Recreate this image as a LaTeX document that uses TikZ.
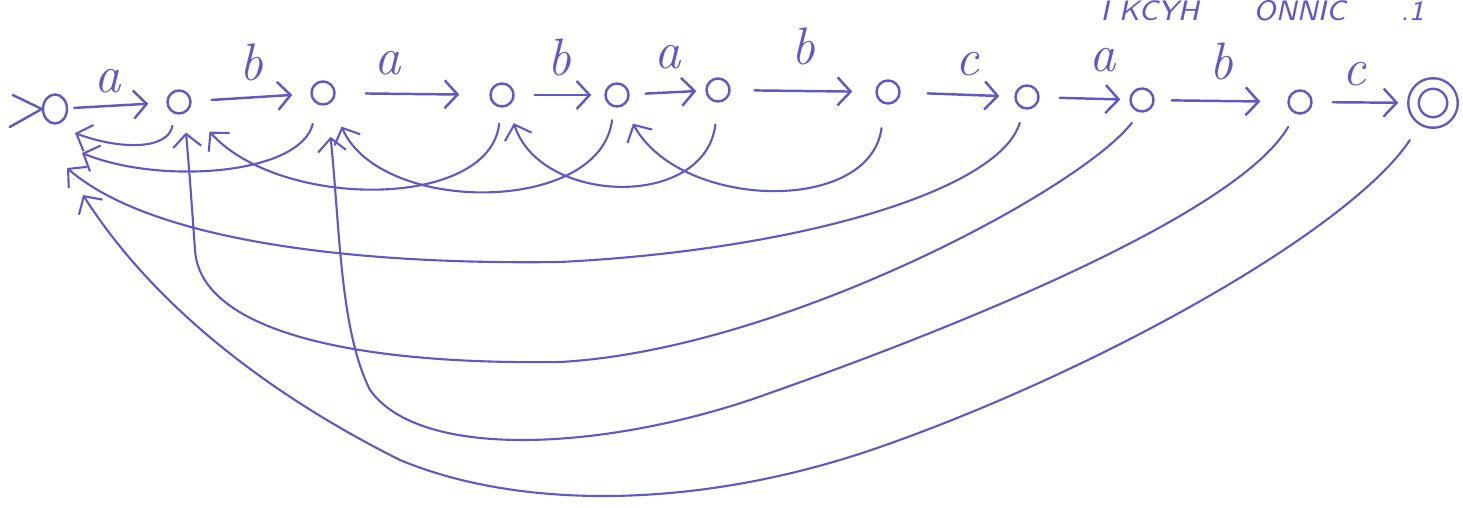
\documentclass[tikz,border=0pt]{standalone}
\usetikzlibrary{arrows.meta, shapes.geometric}
\definecolor{pen}{RGB}{98,88,196}

\begin{document}
\begin{tikzpicture}[x=0.1mm, y=-0.1mm, line cap=round, line join=round,
    state/.style={draw=pen, line width=0.7pt, circle, inner sep=0pt, minimum size=2.3mm},
    fwd/.style={draw=pen, line width=0.7pt, -{Straight Barb[length=1.3mm, width=2.8mm]}, shorten <=2mm, shorten >=1.8mm},
    back/.style={draw=pen, line width=0.6pt, -{Straight Barb[length=1.3mm, width=2.8mm]}},
    lbl/.style={font=\fontsize{15}{17}\selectfont\itshape, text=pen, inner sep=0.3mm},
    note/.style={font=\sffamily\slshape\fontsize{8}{10}\selectfont, text=pen, anchor=base west, inner sep=0pt}]
    \useasboundingbox (0,0) rectangle (1463,508);

    % States
    \node[state, ellipse, minimum width=2.4mm, minimum height=2.9mm] (q0) at (55,109) {};
    \node[state] (q1) at (179,102) {};
    \node[state] (q2) at (323,93) {};
    \node[state] (q3) at (502,95) {};
    \node[state] (q4) at (617,95) {};
    \node[state] (q5) at (718,90) {};
    \node[state] (q6) at (888,92) {};
    \node[state] (q7) at (1027,97) {};
    \node[state] (q8) at (1142,100) {};
    \node[state] (q9) at (1300,102) {};
    \node[state, double, double distance=0.8mm, minimum size=3.9mm] (q10) at (1433,103) {};

    % Start marker
    \draw[pen, line width=0.7pt] ([shift={(-2.9mm,1.4mm)}]q0.west) -- (q0.west) -- ([shift={(-3.2mm,-1.8mm)}]q0.west);

    % Forward transitions
    \draw[fwd, shorten <=0.6mm] (q0) -- node[lbl, above=0.8mm, xshift=-1mm] {a} (q1);
    \draw[fwd] (q1) -- node[lbl, above=1.2mm] {b} (q2);
    \draw[fwd, shorten <=3mm, shorten >=3mm] (q2) -- node[lbl, above=1.5mm, xshift=-2.5mm] {a} (q3);
    \draw[fwd, shorten >=1.3mm] (q3) -- node[lbl, above=1.5mm] {b} (q4);
    \draw[fwd, shorten <=1.6mm, shorten >=0.9mm] (q4) -- node[lbl, above=1.9mm] {a} (q5);
    \draw[fwd, shorten <=2.4mm, shorten >=2.3mm] (q5) -- node[lbl, above=2.2mm] {b} (q6);
    \draw[fwd, shorten <=2.7mm, shorten >=1.5mm] (q6) -- node[lbl, above=1.4mm, xshift=1mm] {c} (q7);
    \draw[fwd, shorten >=0.9mm] (q7) -- node[lbl, above=2.2mm, xshift=1.8mm] {a} (q8);
    \draw[fwd, shorten <=1.7mm, shorten >=2.7mm] (q8) -- node[lbl, above=1.7mm] {b} (q9);
    \draw[fwd, shorten >=1.4mm] (q9) -- node[lbl, above=1.2mm, xshift=-0.8mm] {c} (q10);

    % Arrow ends below the start state
    \coordinate (t0a) at (75,133);
    \coordinate (t0b) at (82,153);
    \coordinate (t0c) at (67,168);
    \coordinate (t0d) at (83,195);

    % Short back edges
    \draw[back, shorten <=1.2mm] (q1.-110) .. controls (168,150) and (120,150) .. (t0a);
    \draw[back, shorten <=2mm] (q2.-115) .. controls (300,175) and (160,185) .. (t0b);
    \draw[back, shorten <=1.6mm, shorten >=3mm] (q3.-95) .. controls (490,210) and (280,210) .. (q1.-35);
    \draw[back, shorten <=1.3mm, shorten >=2.6mm] (q4.-105) .. controls (600,215) and (380,215) .. (q2.-50);
    \draw[back, shorten <=2.2mm, shorten >=1.8mm] (q5.-90) .. controls (705,210) and (540,205) .. (q3.-60);
    \draw[back, shorten <=2.4mm, shorten >=2mm] (q6.-105) .. controls (870,215) and (680,210) .. (q4.-60);

    % Long back edges
    \draw[back, shorten <=1.4mm] (q7.-105) .. controls (1000,190) and (800,250) .. (560,262)
        .. controls (350,265) and (150,240) .. (t0c);
    \draw[back, shorten <=1.3mm, shorten >=1.9mm] (q8.-100) .. controls (1080,190) and (780,350) .. (560,362)
        .. controls (350,365) and (200,330) .. (195,250) .. controls (190,180) .. (q1.-65);
    \draw[back, shorten <=1.5mm, shorten >=3.2mm] (q9.-110) .. controls (1240,210) and (980,320) .. (750,400)
        .. controls (600,450) and (420,460) .. (370,390) .. controls (340,330) and (340,230) .. (q2.-70);
    \draw[back, shorten <=2.3mm] (q10.-120) .. controls (1350,230) and (1100,370) .. (880,447)
        .. controls (700,510) and (520,510) .. (400,460) .. controls (260,390) and (150,300) .. (t0d);

    % Note at the top edge
    \node[note] (noteA) at (1100,21) {I KCYH};
    \node[note] (noteB) at (1253,21) {ONNIC};
    \node[note] (noteC) at (1400,21) {.1};
\end{tikzpicture}
\end{document}
